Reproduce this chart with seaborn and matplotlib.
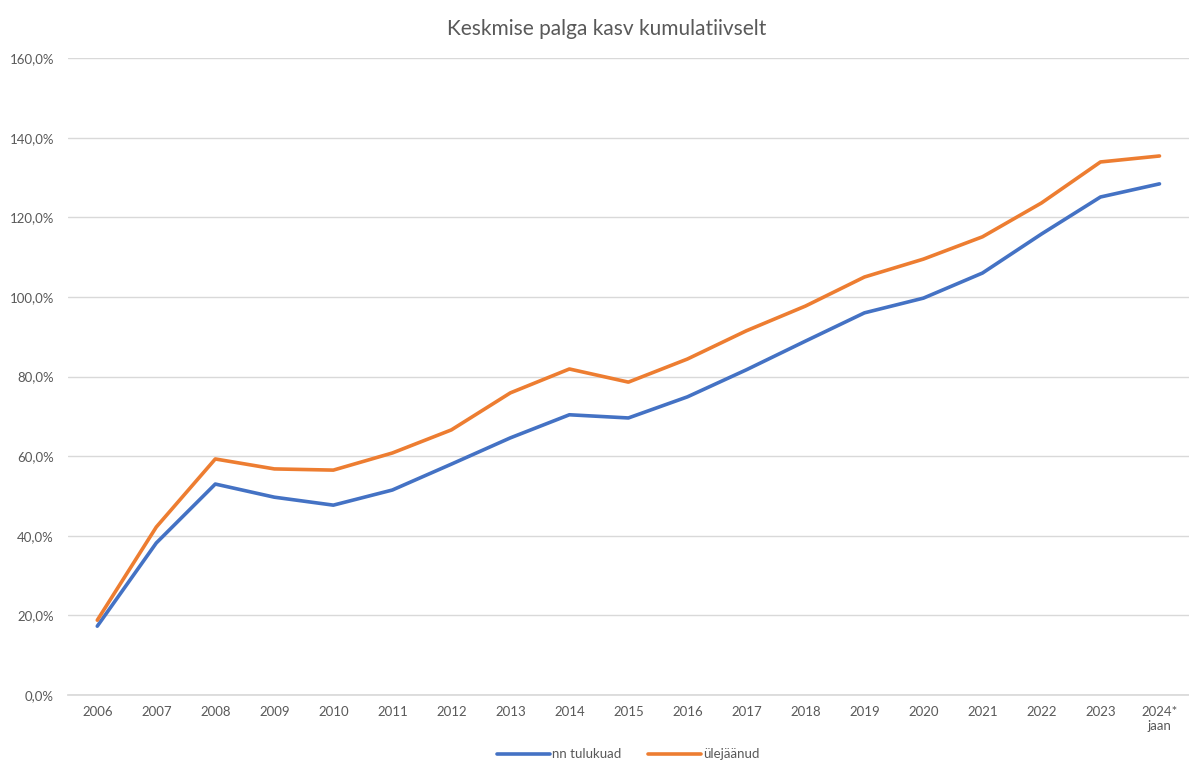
import matplotlib
matplotlib.use("Agg")
import matplotlib.pyplot as plt
import seaborn as sns
import pandas as pd
from matplotlib.ticker import FuncFormatter

years = ["2006", "2007", "2008", "2009", "2010", "2011", "2012", "2013", "2014",
         "2015", "2016", "2017", "2018", "2019", "2020", "2021", "2022", "2023",
         "2024*\njaan"]
nn_tulukuad = [17.3, 38.2, 53.0, 49.7, 47.7, 51.5, 58.0, 64.6, 70.4, 69.6,
               74.9, 81.7, 88.9, 96.0, 99.7, 106.0, 115.8, 125.1, 128.4]
ulejaanud = [18.8, 42.2, 59.3, 56.8, 56.5, 60.8, 66.6, 75.9, 81.9, 78.6,
             84.4, 91.5, 97.7, 105.0, 109.5, 115.1, 123.6, 133.9, 135.4]
series_names = ["nn tulukuad", "ülejäänud"]
palette = ["#4472C4", "#ED7D31"]

df = pd.DataFrame({
    "pos": list(range(len(years))) * 2,
    "value": nn_tulukuad + ulejaanud,
    "series": [series_names[0]] * len(years) + [series_names[1]] * len(years),
})

sns.set_theme(style="white")
plt.rcParams["font.family"] = ["Lato", "DejaVu Sans"]

fig = plt.figure(figsize=(11.89, 7.74), dpi=100)
ax = fig.add_axes([0.057, 0.102, 0.943, 0.823])

sns.lineplot(data=df, x="pos", y="value", hue="series", palette=palette,
             linewidth=2.6, ax=ax, legend=True)

ax.set_xlim(-0.5, len(years) - 0.5)
ax.set_ylim(0, 160)
ax.set_yticks(range(0, 161, 20))
ax.yaxis.set_major_formatter(FuncFormatter(lambda v, p: f"{v:.1f}%".replace(".", ",")))
ax.set_xticks(range(len(years)))
ax.set_xticklabels(years)
ax.tick_params(axis="both", colors="#595959", labelsize=9.5, length=0)
ax.tick_params(axis="x", pad=8)
ax.tick_params(axis="y", pad=10)
ax.grid(axis="y", color="#D9D9D9", linewidth=1)
ax.set_axisbelow(True)
for side in ["left", "right", "top"]:
    ax.spines[side].set_visible(False)
ax.spines["bottom"].set_color("#D9D9D9")
ax.set_xlabel("")
ax.set_ylabel("")

fig.suptitle("Keskmise palga kasv kumulatiivselt", x=0.51, y=0.975,
             fontsize=15, color="#595959")

handles, labels = ax.get_legend_handles_labels()
ax.legend(handles, labels, loc="upper center", bbox_to_anchor=(0.5, -0.065),
          ncol=2, frameon=False, fontsize=9.5, labelcolor="#595959",
          handlelength=4, handletextpad=0.2, columnspacing=2)

fig.savefig("out.png", dpi=100, facecolor="white")
